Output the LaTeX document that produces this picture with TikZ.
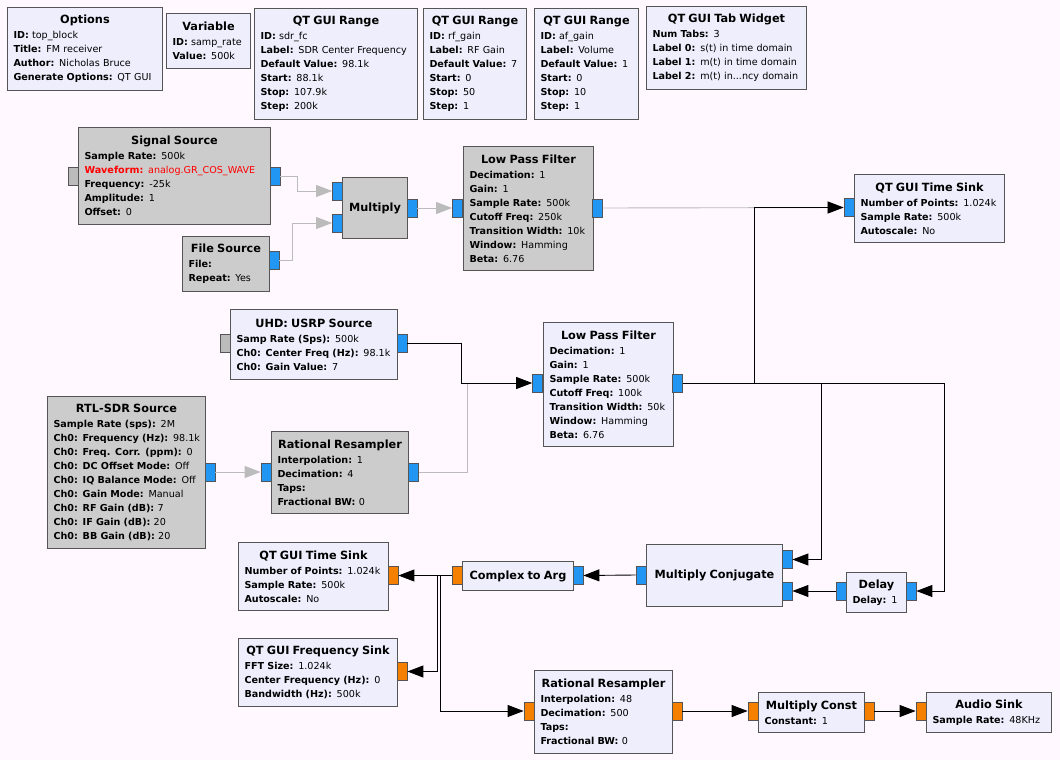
\documentclass[tikz,border=0pt]{standalone}
\usepackage{fontspec}
\setmainfont{DejaVu Sans}
\usetikzlibrary{arrows.meta}
\definecolor{canvas}{HTML}{FFF9FF}
\definecolor{blockfill}{HTML}{EEEEFD}
\definecolor{offfill}{HTML}{CCCCCC}
\definecolor{blockline}{HTML}{555555}
\definecolor{cplx}{HTML}{2196F3}
\definecolor{flt}{HTML}{F58000}
\definecolor{msgport}{HTML}{BBBBBB}
\definecolor{wireoff}{HTML}{BBBBBB}
\newcommand{\bodyfont}{\fontsize{9.6}{14}\selectfont}
\newcommand{\btitle}[1]{\makebox[\linewidth]{\bfseries\fontsize{11.3}{14}\selectfont #1}}
\newcommand{\prm}[2]{\mbox{\textbf{#1:} #2}}

\begin{document}
\begin{tikzpicture}[x=1pt,y=-1pt]
	%
	% `blockon' / `blockoff' are enabled and disabled blocks.
	% `cport', `fport', `mport' are complex, float and message ports.
	% `wire' / `offwire' are enabled and disabled connections.
	\tikzstyle{blockon} = [draw=blockline,fill=blockfill,line width=1pt,anchor=north west,inner xsep=6pt,inner ysep=0pt,align=left,font=\bodyfont]
	\tikzstyle{blockoff} = [blockon,fill=offfill]
	\tikzstyle{portbox} = [draw=blockline,line width=0.8pt,minimum width=10pt,minimum height=18pt,inner sep=0pt]
	\tikzstyle{cport} = [portbox,fill=cplx]
	\tikzstyle{fport} = [portbox,fill=flt]
	\tikzstyle{mport} = [portbox,fill=msgport]
	\tikzstyle{wire} = [line width=0.9pt,-{Triangle[length=16pt,width=12pt]}]
	\tikzstyle{offwire} = [wire,draw=wireoff]
	%
	% Canvas
	\fill[canvas] (0,0) rectangle (1060,760);
	\useasboundingbox (0,0) rectangle (1060,760);
	%
	% Variables
	\node[blockon,minimum height=83pt,text width=143pt] (opts) at (7,7) {\btitle{Options}\\[1pt]
		\prm{ID}{top\_block}\\ \prm{Title}{FM receiver}\\ \prm{Author}{Nicholas Bruce}\\ \prm{Generate Options}{QT GUI}};
	\node[blockon,minimum height=55pt,text width=72pt] (var) at (166,13) {\btitle{Variable}\\[1pt]
		\prm{ID}{samp\_rate}\\ \prm{Value}{500k}};
	\node[blockon,minimum height=111pt,text width=151pt] (rng1) at (254,8) {\btitle{QT GUI Range}\\[1pt]
		\prm{ID}{sdr\_fc}\\ \prm{Label}{SDR Center Frequency}\\ \prm{Default Value}{98.1k}\\ \prm{Start}{88.1k}\\ \prm{Stop}{107.9k}\\ \prm{Step}{200k}};
	\node[blockon,minimum height=111pt,text width=91pt] (rng2) at (423,8) {\btitle{QT GUI Range}\\[1pt]
		\prm{ID}{rf\_gain}\\ \prm{Label}{RF Gain}\\ \prm{Default Value}{7}\\ \prm{Start}{0}\\ \prm{Stop}{50}\\ \prm{Step}{1}};
	\node[blockon,minimum height=111pt,text width=92pt] (rng3) at (534,8) {\btitle{QT GUI Range}\\[1pt]
		\prm{ID}{af\_gain}\\ \prm{Label}{Volume}\\ \prm{Default Value}{1}\\ \prm{Start}{0}\\ \prm{Stop}{10}\\ \prm{Step}{1}};
	\node[blockon,minimum height=83pt,text width=148pt] (tabs) at (646,6) {\btitle{QT GUI Tab Widget}\\[1pt]
		\prm{Num Tabs}{3}\\ \prm{Label 0}{s(t) in time domain}\\ \prm{Label 1}{m(t) in time domain}\\ \prm{Label 2}{m(t) in...ncy domain}};
	%
	% Test path (disabled)
	\node[blockoff,minimum height=97pt,text width=180pt] (sigsrc) at (78,127) {\btitle{Signal Source}\\[1pt]
		\prm{Sample Rate}{500k}\\ \textcolor{red}{\prm{Waveform}{analog.GR\_COS\_WAVE}}\\ \prm{Frequency}{-25k}\\ \prm{Amplitude}{1}\\ \prm{Offset}{0}};
	\node[blockoff,minimum height=55pt,text width=75pt] (filesrc) at (182,236) {\btitle{File Source}\\[1pt]
		\prm{File}{}\\ \prm{Repeat}{Yes}};
	\node[blockoff,minimum height=61pt,text width=53pt] (mult) at (342,177) {\btitle{Multiply}};
	\node[blockoff,minimum height=124pt,text width=118pt] (lpf1) at (463,146) {\btitle{Low Pass Filter}\\[1pt]
		\prm{Decimation}{1}\\ \prm{Gain}{1}\\ \prm{Sample Rate}{500k}\\ \prm{Cutoff Freq}{250k}\\ \prm{Transition Width}{10k}\\ \prm{Window}{Hamming}\\ \prm{Beta}{6.76}};
	\node[mport] (sigsrc-msg) at (73,176) {};
	\node[cport] (sigsrc-out) at (275,176) {};
	\node[cport] (filesrc-out) at (274,260) {};
	\node[cport] (mult-in1) at (337.5,191) {};
	\node[cport] (mult-in2) at (337.5,223) {};
	\node[cport] (mult-out) at (412,208) {};
	\node[cport] (lpf1-in) at (457.5,208) {};
	\node[cport] (lpf1-out) at (597.5,208) {};
	%
	% Time sink
	\node[blockon,minimum height=68pt,text width=138pt] (tsink1) at (854,174) {\btitle{QT GUI Time Sink}\\[1pt]
		\prm{Number of Points}{1.024k}\\ \prm{Sample Rate}{500k}\\ \prm{Autoscale}{No}};
	\node[cport] (tsink1-in) at (849,207.5) {};
	%
	% Radio front end
	\node[blockon,minimum height=70pt,text width=155pt] (usrp) at (230,309) {\btitle{UHD: USRP Source}\\[1pt]
		\prm{Samp Rate (Sps)}{500k}\\ \prm{Ch0: Center Freq (Hz)}{98.1k}\\ \prm{Ch0: Gain Value}{7}};
	\node[blockon,minimum height=124pt,text width=118pt] (lpf2) at (543,322) {\btitle{Low Pass Filter}\\[1pt]
		\prm{Decimation}{1}\\ \prm{Gain}{1}\\ \prm{Sample Rate}{500k}\\ \prm{Cutoff Freq}{100k}\\ \prm{Transition Width}{50k}\\ \prm{Window}{Hamming}\\ \prm{Beta}{6.76}};
	\node[blockoff,minimum height=152pt,text width=146pt] (rtl) at (47,396) {\btitle{RTL-SDR Source}\\[1pt]
		\prm{Sample Rate (sps)}{2M}\\ \prm{Ch0: Frequency (Hz)}{98.1k}\\ \prm{Ch0: Freq. Corr. (ppm)}{0}\\ \prm{Ch0: DC Offset Mode}{Off}\\ \prm{Ch0: IQ Balance Mode}{Off}\\
		\prm{Ch0: Gain Mode}{Manual}\\ \prm{Ch0: RF Gain (dB)}{7}\\ \prm{Ch0: IF Gain (dB)}{20}\\ \prm{Ch0: BB Gain (dB)}{20}};
	\node[blockoff,minimum height=82pt,text width=125pt] (rr1) at (271,431) {\btitle{Rational Resampler}\\[1pt]
		\prm{Interpolation}{1}\\ \prm{Decimation}{4}\\ \prm{Taps}{}\\ \prm{Fractional BW}{0}};
	\node[mport] (usrp-msg) at (225.5,343.5) {};
	\node[cport] (usrp-out) at (402,343.5) {};
	\node[cport] (lpf2-in) at (537.5,383) {};
	\node[cport] (lpf2-out) at (677.5,383) {};
	\node[cport] (rtl-out) at (210,472) {};
	\node[cport] (rr1-in) at (266,472) {};
	\node[cport] (rr1-out) at (413.5,472) {};
	%
	% FM demodulator
	\node[blockon,minimum height=62pt,text width=124pt] (mconj) at (646,544) {\btitle{Multiply Conjugate}};
	\node[blockon,minimum height=40pt,text width=48pt] (delay) at (846,572) {\btitle{Delay}\\[1pt] \prm{Delay}{1}};
	\node[blockon,minimum height=29pt,text width=99pt] (c2a) at (462,561) {\btitle{Complex to Arg}};
	\node[cport] (mconj-in1) at (787,559.5) {};
	\node[cport] (mconj-in2) at (787,591) {};
	\node[cport] (mconj-out) at (641,575) {};
	\node[cport] (delay-in) at (911,591) {};
	\node[cport] (delay-out) at (841,591) {};
	\node[cport] (c2a-in) at (578,575.5) {};
	\node[fport] (c2a-out) at (457,575.5) {};
	%
	% Sinks and audio
	\node[blockon,minimum height=68pt,text width=138pt] (tsink2) at (238,542) {\btitle{QT GUI Time Sink}\\[1pt]
		\prm{Number of Points}{1.024k}\\ \prm{Sample Rate}{500k}\\ \prm{Autoscale}{No}};
	\node[blockon,minimum height=68pt,text width=147pt] (fsink) at (238,638) {\btitle{QT GUI Frequency Sink}\\[1pt]
		\prm{FFT Size}{1.024k}\\ \prm{Center Frequency (Hz)}{0}\\ \prm{Bandwidth (Hz)}{500k}};
	\node[blockon,minimum height=83pt,text width=126pt] (rr2) at (534,670) {\btitle{Rational Resampler}\\[1pt]
		\prm{Interpolation}{48}\\ \prm{Decimation}{500}\\ \prm{Taps}{}\\ \prm{Fractional BW}{0}};
	\node[blockon,minimum height=40pt,text width=94pt] (mconst) at (758,692) {\btitle{Multiply Const}\\[1pt] \prm{Constant}{1}};
	\node[blockon,minimum height=40pt,text width=113pt] (asink) at (926,692) {\btitle{Audio Sink}\\[1pt] \prm{Sample Rate}{48KHz}};
	\node[fport] (tsink2-in) at (393,575.5) {};
	\node[fport] (fsink-in) at (402,671.5) {};
	\node[fport] (rr2-in) at (529,711) {};
	\node[fport] (rr2-out) at (677,711) {};
	\node[fport] (mconst-in) at (753,711) {};
	\node[fport] (mconst-out) at (869,711) {};
	\node[fport] (asink-in) at (921,711) {};
	%
	% Disabled connections
	\draw[offwire] (sigsrc-out.east) -- ++(17,0) |- (mult-in1.west);
	\draw[offwire] (filesrc-out.east) -- ++(13,0) |- (mult-in2.west);
	\draw[offwire] (mult-out.east) -- (lpf1-in.west);
	\draw[offwire] (lpf1-out.east) -- (tsink1-in.west);
	\draw[offwire] (rtl-out.east) -- (rr1-in.west);
	\draw[offwire] (rr1-out.east) -- ++(49,0) |- (lpf2-in.west);
	%
	% Enabled connections
	\draw[wire] (usrp-out.east) -- ++(54,0) |- (lpf2-in.west);
	\draw[wire] (lpf2-out.east) -- ++(72,0) |- (tsink1-in.west);
	\draw[wire] (lpf2-out.east) -- ++(139,0) |- (mconj-in1.east);
	\draw[wire] (lpf2-out.east) -- ++(262,0) |- (delay-in.east);
	\draw[wire] (delay-out.west) -- (mconj-in2.east);
	\draw[wire] (mconj-out.west) -- (c2a-in.east);
	\draw[wire] (c2a-out.west) -- (tsink2-in.east);
	\draw[wire] (c2a-out.west) -- ++(-14,0) |- (fsink-in.east);
	\draw[wire] (c2a-out.west) -- ++(-11,0) |- (rr2-in.west);
	\draw[wire] (rr2-out.east) -- (mconst-in.west);
	\draw[wire] (mconst-out.east) -- (asink-in.west);
	%
\end{tikzpicture}
\end{document}
